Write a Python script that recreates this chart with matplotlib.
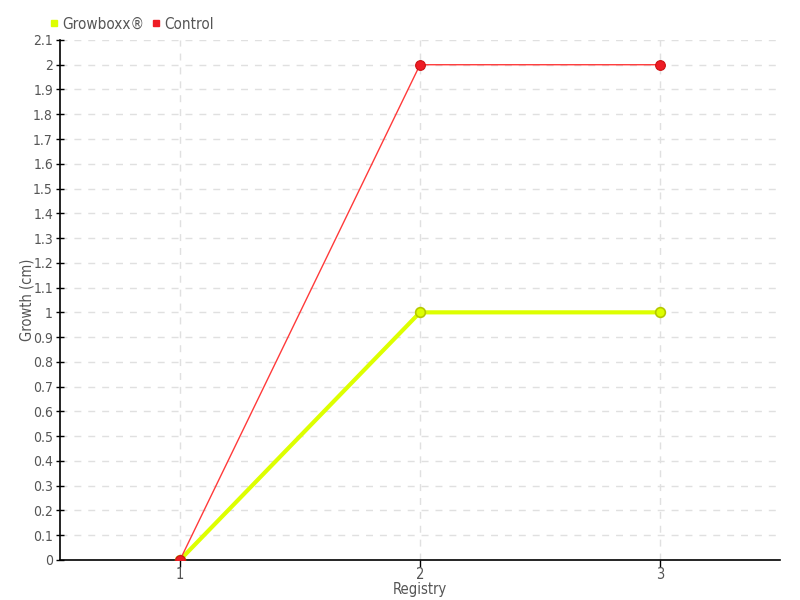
import matplotlib
matplotlib.use("Agg")
import matplotlib.pyplot as plt
from matplotlib.lines import Line2D

categories = [1, 2, 3]
growboxx = [0, 1, 1]
control = [0, 2, 2]
yticks = [round(i * 0.1, 1) for i in range(22)]
ytick_labels = ["0" if v == 0 else ("%g" % v) for v in yticks]

plt.rcParams['font.family'] = ['DejaVu Sans']
plt.rcParams['font.stretch'] = 'condensed'
text_color = '#555555'

fig = plt.figure(figsize=(8, 6), dpi=100)
ax = fig.add_axes([0.075, 0.0667, 0.9, 0.8667])

ax.plot(categories, growboxx, color='#ddff00', lw=3, marker='o', ms=7,
        mfc='#ddff00', mec='#b5c800', mew=1.2, zorder=3, solid_capstyle='round')
ax.plot(categories, control, color='#ff3a3a', lw=1, marker='o', ms=7,
        mfc='#ee1c25', mec='#cc1111', mew=0.8, zorder=4)

ax.set_xlim(0.5, 3.5)
ax.set_ylim(0, 2.1)
ax.set_xticks(categories)
ax.set_xticklabels([str(c) for c in categories])
ax.set_yticks(yticks)
ax.set_yticklabels(ytick_labels)

ax.grid(True, color='#e0e0e0', linestyle=(0, (5, 5)), lw=1)
ax.set_axisbelow(True)
for s in ['top', 'right']:
    ax.spines[s].set_visible(False)
ax.spines['left'].set_color('black')
ax.spines['bottom'].set_color('black')
ax.spines['left'].set_linewidth(1.2)
ax.spines['bottom'].set_linewidth(1.2)

ax.tick_params(axis='y', direction='inout', length=6, width=1, colors='black',
               labelcolor=text_color, labelsize=10, pad=2)
ax.tick_params(axis='x', direction='out', length=5, width=1, colors='black',
               labelcolor=text_color, labelsize=10.5, pad=0)

ax.set_ylabel('Growth (cm)', color=text_color, fontsize=10.5)
ax.yaxis.set_label_coords(-0.036, 0.5)
ax.set_xlabel('Registry', color=text_color, fontsize=10.5, labelpad=0)

handles = [Line2D([], [], ls='none', marker='s', ms=5, color='#ddff00', label='Growboxx®'),
           Line2D([], [], ls='none', marker='s', ms=5, color='#ee1c25', label='Control')]
leg = fig.legend(handles=handles, loc='upper left', bbox_to_anchor=(0.045, 0.995),
                 ncol=2, frameon=False, fontsize=11, handlelength=0.6,
                 handletextpad=0.2, columnspacing=0.5, labelcolor=text_color)

fig.savefig('out.png', dpi=100)
